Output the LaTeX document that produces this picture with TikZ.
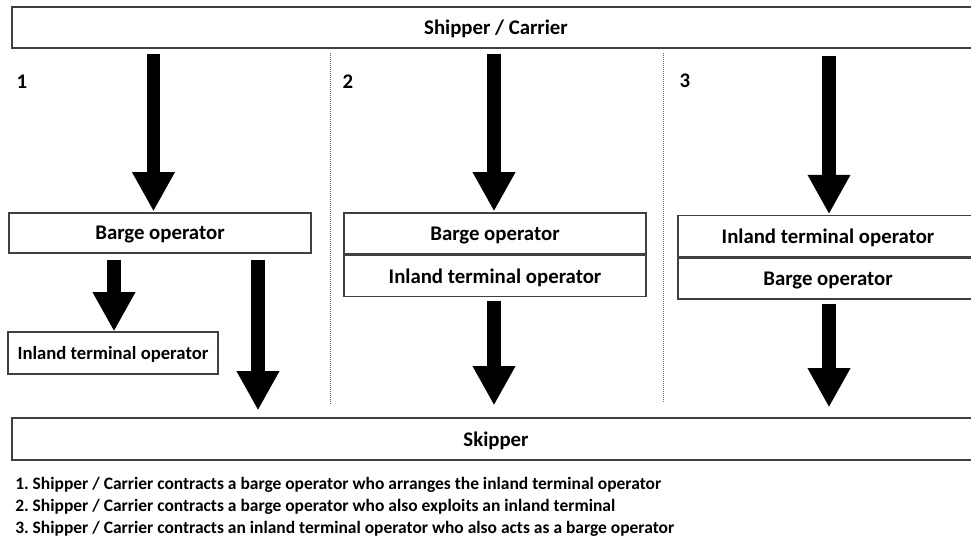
\documentclass[tikz,border=0pt]{standalone}
\usepackage{fontspec}
\setmainfont{Carlito}
\frenchspacing
\usepackage{tikz}
\usetikzlibrary{arrows.meta, positioning}
\tikzstyle{box} = [rectangle, draw=black!75, line width=0.9pt, minimum width=226.5pt, minimum height=30.75pt, inner sep=0pt, text depth=0pt, text centered, font=\fontsize{15.6}{18}\selectfont\bfseries]
\tikzstyle{wide} = [box, minimum width=726pt]
\tikzstyle{bigarrow} = [line width=10pt, -{Triangle[width=30pt, length=29.5pt]}]
\tikzstyle{sep} = [densely dotted, black!60, line width=0.5pt]
\tikzstyle{num} = [font=\fontsize{15.6}{18}\selectfont\bfseries]

\begin{document}
\begin{tikzpicture}[x=0.75pt, y=-0.75pt]
\useasboundingbox (0,0) rectangle (971,537);

\node (ship) [wide] at (496,27.5) {Shipper / Carrier};
\node (skip) [wide, minimum height=31.5pt] at (496,439) {Skipper};

\node (n1) [num] at (22,82) {1};
\node (n2) [num] at (348,82) {2};
\node (n3) [num] at (685,81) {3};

\draw [sep] (330,53) -- (330,405);
\draw [sep] (663,53) -- (663,403);

\node (b1) [box, minimum height=30pt] at (160,233) {Barge operator};
\node (it1) [box, minimum width=157.5pt, minimum height=31.5pt, font=\fontsize{14}{16}\selectfont\bfseries] at (113,353) {Inland terminal operator};

\node (b2) [box] at (495,233.5) {Barge operator};
\node (it2) [box, below=0pt of b2] {Inland terminal operator};

\node (it3) [box, minimum width=225pt] at (828,236.25) {Inland terminal operator};
\node (b3) [box, minimum width=225pt, below=0pt of it3] {Barge operator};

\draw [bigarrow, shorten <=3.75pt, shorten >=0.75pt] ([xshift=-4.9pt]b1.north |- ship.south) -- ([xshift=-4.9pt]b1.north);
\draw [bigarrow, shorten <=4.5pt] ([xshift=-34.5pt]b1.south) -- ([xshift=-34.5pt]b1.south |- it1.north);
\draw [bigarrow, shorten <=4.5pt, shorten >=5.25pt] ([xshift=73.5pt]b1.south) -- ([xshift=73.5pt]b1.south |- skip.north);

\draw [bigarrow, shorten <=3.75pt, shorten >=0.75pt] ([xshift=-0.75pt]b2.north |- ship.south) -- ([xshift=-0.75pt]b2.north);
\draw [bigarrow, shorten <=3pt, shorten >=9pt] ([xshift=-0.75pt]it2.south) -- ([xshift=-0.75pt]it2.south |- skip.north);

\draw [bigarrow, shorten <=5.25pt, shorten >=0.75pt] ([xshift=0.75pt]it3.north |- ship.south) -- ([xshift=0.75pt]it3.north);
\draw [bigarrow, shorten <=3pt, shorten >=7.5pt] ([xshift=0.75pt]b3.south) -- ([xshift=0.75pt]b3.south |- skip.north);

\node (legend) [anchor=north west, align=left, inner sep=0pt, font=\fontsize{13.1}{16.5}\selectfont\bfseries] at (15,477) {1. Shipper / Carrier contracts a barge operator who arranges the inland terminal operator\\2. Shipper / Carrier contracts a barge operator who also exploits an inland terminal\\3. Shipper / Carrier contracts an inland terminal operator who also acts as a barge operator};

\end{tikzpicture}
\end{document}
